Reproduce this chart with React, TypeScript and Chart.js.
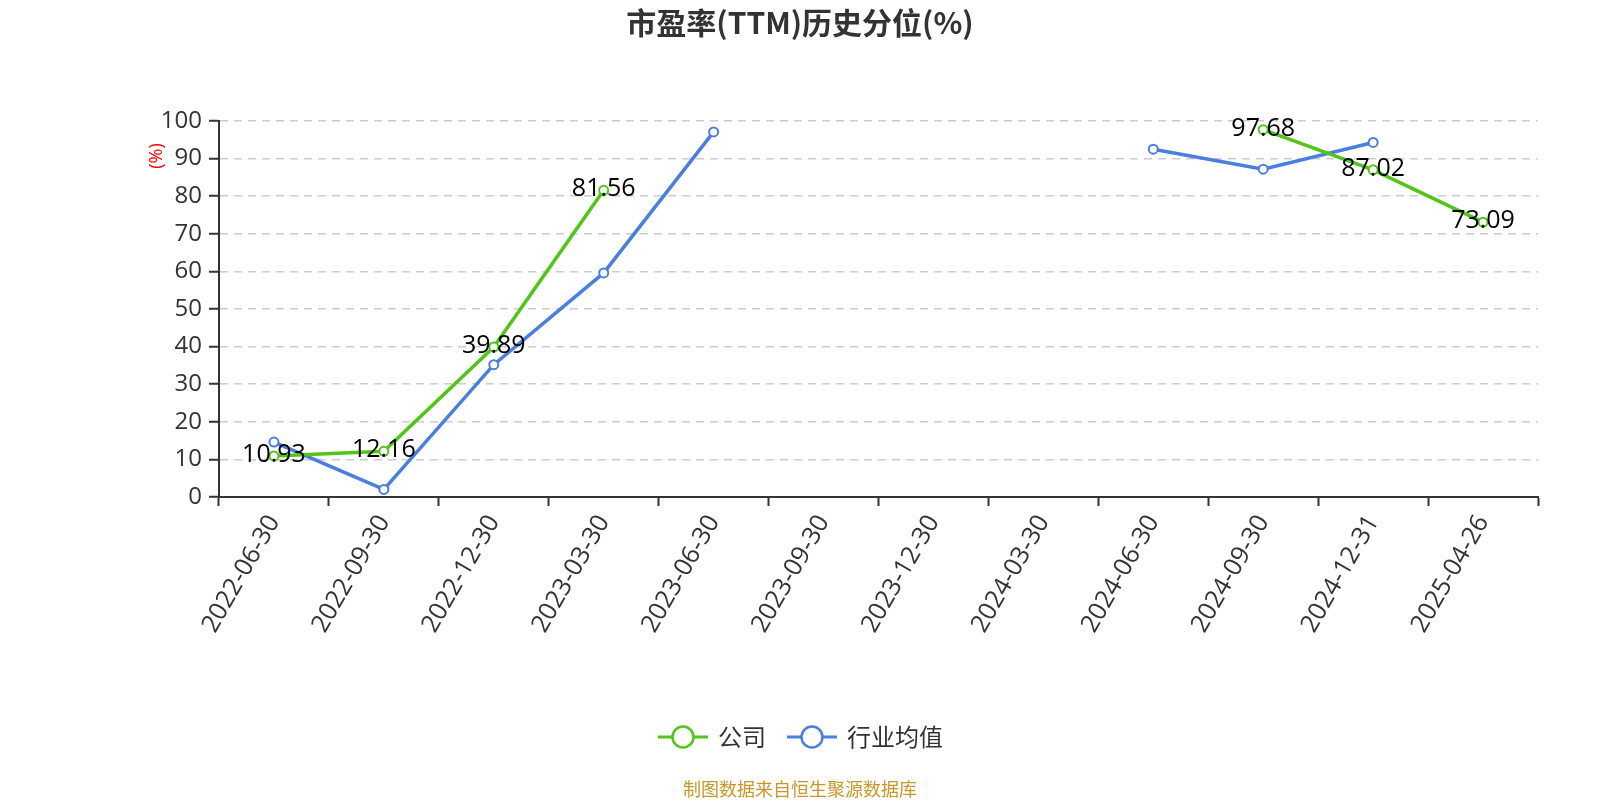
import React, { useEffect, useRef } from "react";
import { Chart, registerables } from "chart.js";

Chart.register(...registerables);

const categories = [
  "2022-06-30", "2022-09-30", "2022-12-30", "2023-03-30", "2023-06-30", "2023-09-30",
  "2023-12-30", "2024-03-30", "2024-06-30", "2024-09-30", "2024-12-31", "2025-04-26",
];
const companyValues: (number | null)[] = [10.93, 12.16, 39.89, 81.56, null, null, null, null, null, 97.68, 87.02, 73.09];
const industryValues: (number | null)[] = [14.6, 2.0, 35.2, 59.6, 97.1, null, null, null, 92.5, 87.2, 94.3, null];
const yTicks = [0, 10, 20, 30, 40, 50, 60, 70, 80, 90, 100];
const seriesNames = ["公司", "行业均值"];
const titleText = "市盈率(TTM)历史分位(%)";
const footerText = "制图数据来自恒生聚源数据库";
const yAxisName = "(%)";

const GREEN = "#52C41A";
const BLUE = "#4A7FE0";
const FONT = '"Open Sans", "Noto Sans CJK SC", sans-serif';
const CJK = '"Noto Sans CJK SC", "Open Sans", sans-serif';

const decorPlugin = {
  id: "decor",
  afterDatasetsDraw(chart: any) {
    const ctx = chart.ctx;
    const meta = chart.getDatasetMeta(0);
    ctx.save();
    ctx.font = `25px ${FONT}`;
    ctx.fillStyle = "#000";
    ctx.textAlign = "center";
    ctx.textBaseline = "middle";
    meta.data.forEach((pt: any, i: number) => {
      const v = companyValues[i];
      if (v == null) return;
      ctx.fillText(v.toFixed(2), pt.x, pt.y - 1);
    });
    ctx.restore();
  },
  afterDraw(chart: any) {
    const ctx = chart.ctx;
    ctx.save();
    // title
    ctx.font = `bold 30px ${CJK}`;
    ctx.fillStyle = "#333";
    ctx.textAlign = "center";
    ctx.textBaseline = "middle";
    ctx.fillText(titleText, 800, 23);
    // y axis name
    ctx.save();
    ctx.translate(157, 156);
    ctx.rotate(-Math.PI / 2);
    ctx.font = `18px ${FONT}`;
    ctx.fillStyle = "#ff0000";
    ctx.fillText(yAxisName, 0, 0);
    ctx.restore();
    // legend
    const items = [
      { name: seriesNames[0], color: GREEN, x: 658 },
      { name: seriesNames[1], color: BLUE, x: 787 },
    ];
    const ly = 737;
    items.forEach((it) => {
      ctx.strokeStyle = it.color;
      ctx.lineWidth = 3;
      ctx.beginPath();
      ctx.moveTo(it.x, ly);
      ctx.lineTo(it.x + 50, ly);
      ctx.stroke();
      ctx.beginPath();
      ctx.arc(it.x + 25, ly, 10.5, 0, Math.PI * 2);
      ctx.fillStyle = "#fff";
      ctx.fill();
      ctx.lineWidth = 2.5;
      ctx.stroke();
      ctx.font = `24px ${CJK}`;
      ctx.fillStyle = "#333";
      ctx.textAlign = "left";
      ctx.fillText(it.name, it.x + 60, ly);
    });
    // footer
    ctx.font = `18px ${CJK}`;
    ctx.fillStyle = "#C9962B";
    ctx.textAlign = "center";
    ctx.fillText(footerText, 800, 789);
    ctx.restore();
  },
};

export default function App() {
  const ref = useRef<HTMLCanvasElement | null>(null);
  useEffect(() => {
    document.body.style.margin = "0";
    if (!ref.current) return;
    const chart = new Chart(ref.current, {
      type: "line",
      data: {
        labels: categories,
        datasets: [
          {
            label: seriesNames[0],
            data: companyValues,
            borderColor: GREEN,
            backgroundColor: "#fff",
            pointBackgroundColor: "#fff",
            pointBorderColor: GREEN,
            pointRadius: 4.5,
            pointBorderWidth: 2,
            borderWidth: 3.5,
            spanGaps: false,
            tension: 0,
          },
          {
            label: seriesNames[1],
            data: industryValues,
            borderColor: BLUE,
            backgroundColor: "#fff",
            pointBackgroundColor: "#fff",
            pointBorderColor: BLUE,
            pointRadius: 4.5,
            pointBorderWidth: 2,
            borderWidth: 3.5,
            spanGaps: false,
            tension: 0,
          },
        ],
      },
      options: {
        responsive: false,
        animation: false,
        devicePixelRatio: 1,
        layout: { padding: { top: 121, right: 62, left: 0, bottom: 0 } },
        plugins: {
          legend: { display: false },
          title: { display: false },
          tooltip: { enabled: false },
        },
        scales: {
          x: {
            type: "category",
            offset: true,
            afterFit: (s: any) => {
              s.height = 303;
            },
            grid: {
              offset: true,
              drawOnChartArea: false,
              drawTicks: true,
              tickLength: 9,
              tickColor: "#333",
              tickWidth: 2,
            },
            border: { color: "#333", width: 2 },
            ticks: {
              autoSkip: false,
              minRotation: 60,
              maxRotation: 60,
              padding: 4,
              color: "#333",
              font: { size: 25, family: FONT },
            },
          },
          y: {
            min: 0,
            max: 100,
            afterFit: (s: any) => {
              s.width = 219;
            },
            afterBuildTicks: (s: any) => {
              s.ticks = yTicks.map((v) => ({ value: v }));
            },
            grid: {
              color: "#cccccc",
              lineWidth: 1.5,
              tickColor: "#333",
              tickLength: 10,
              tickWidth: 2,
            },
            border: { color: "#333", width: 2, dash: [8, 6] },
            ticks: {
              padding: 7,
              color: "#333",
              font: { size: 24, family: FONT },
            },
          },
        },
      },
      plugins: [decorPlugin],
    } as any);
    return () => chart.destroy();
  }, []);
  return (
    <div style={{ position: "absolute", left: 0, top: 0, width: 1600, height: 800 }}>
      <canvas ref={ref} width={1600} height={800} />
    </div>
  );
}
